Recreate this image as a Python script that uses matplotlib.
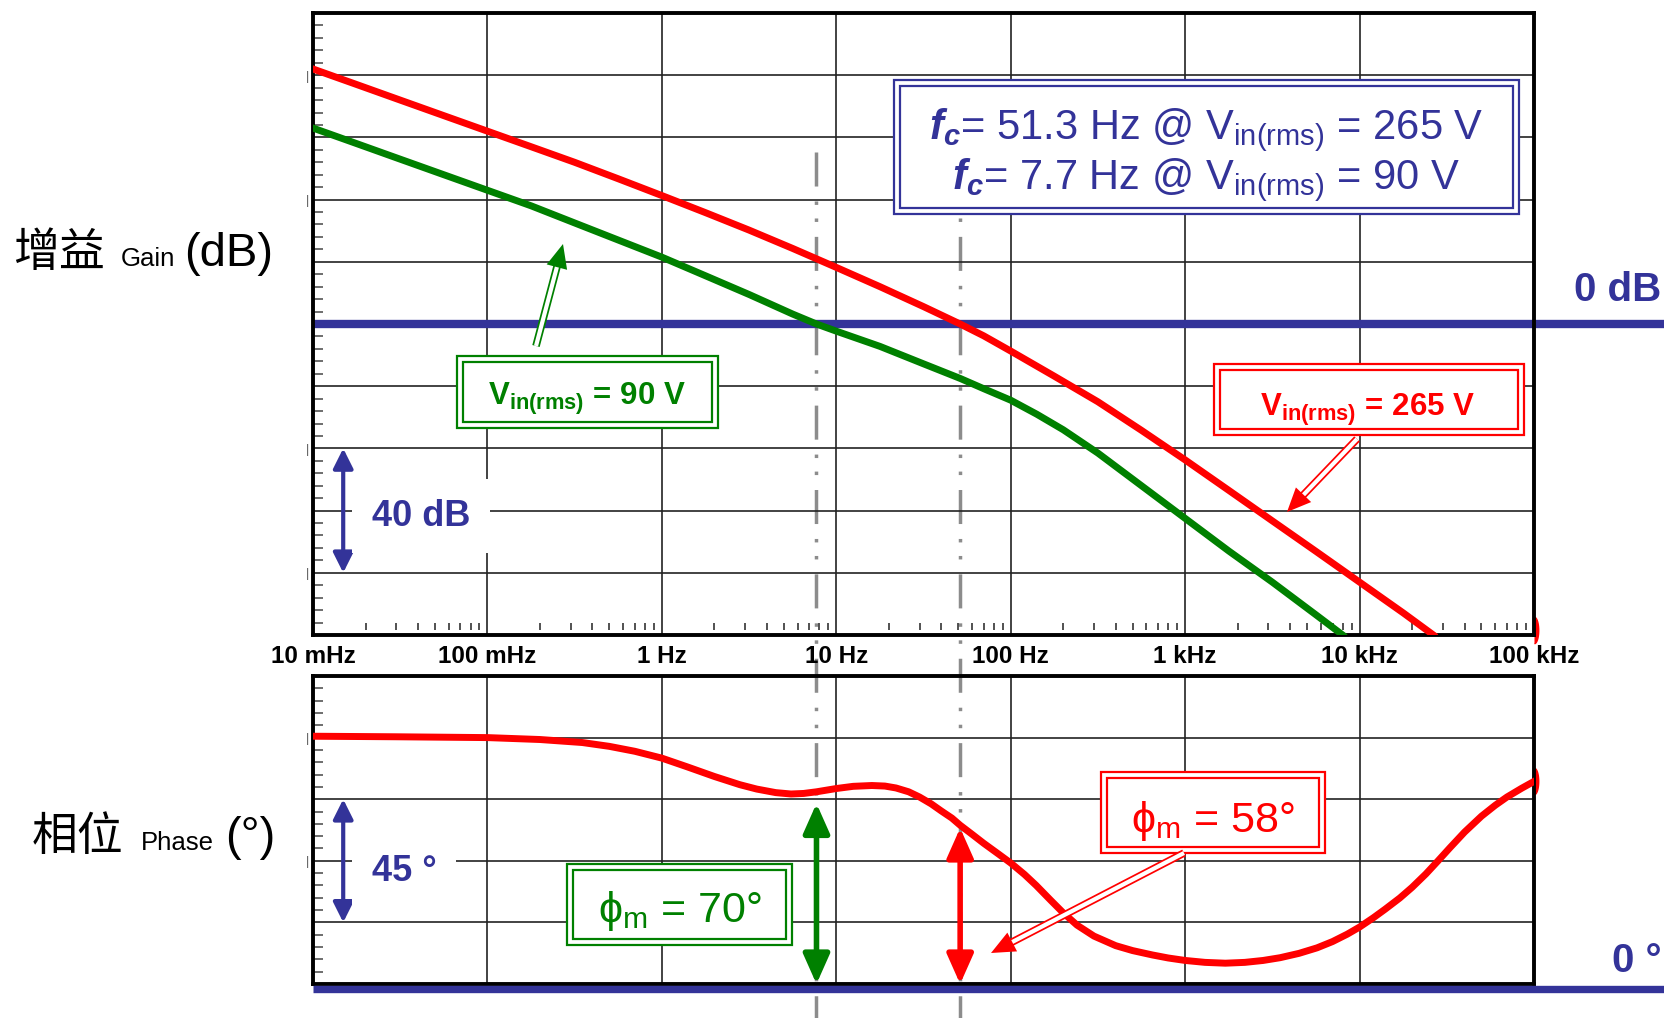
import numpy as np
import matplotlib
matplotlib.use('Agg')
import matplotlib.pyplot as plt
import matplotlib.transforms as mtransforms
from matplotlib.lines import Line2D
from matplotlib.patches import Rectangle, FancyArrowPatch
from matplotlib.path import Path
from matplotlib.ticker import FixedLocator, FixedFormatter, MultipleLocator, NullLocator

plt.rcParams['font.family'] = ['Liberation Sans', 'DejaVu Sans']
plt.rcParams['mathtext.fontset'] = 'custom'
plt.rcParams['mathtext.rm'] = 'Liberation Sans'
plt.rcParams['mathtext.it'] = 'Liberation Sans:italic'
plt.rcParams['mathtext.bf'] = 'Liberation Sans:bold'
plt.rcParams['mathtext.bfit'] = 'Liberation Sans:bold:italic'
plt.rcParams['mathtext.fallback'] = 'stixsans'

# open-loop gain, Vin(rms) = 265 V
gain_hi_freq = [0.01, 0.0178, 0.0316, 0.0562, 0.1, 0.178, 0.316, 0.562, 1, 1.78, 3.16, 5.62, 10, 17.8,
                31.6, 51.3, 70, 100, 178, 316, 562, 1000, 1780, 3160, 5620, 10000, 17800, 26500]
gain_hi_db = [82, 77, 72, 67, 62, 57, 52, 46.7, 41.3, 35.8, 30.2, 24.3, 18.2, 12,
              5.6, 0, -3.8, -8.7, -16.8, -25, -34.2, -43.7, -53.5, -63.3, -73.1, -83, -92.9, -100]

# open-loop gain, Vin(rms) = 90 V
gain_lo_freq = [0.01, 0.0178, 0.0316, 0.0562, 0.1, 0.178, 0.316, 0.562, 1, 1.78, 3.16, 5.62, 7.7, 10,
                17.8, 31.6, 51.3, 70, 100, 141, 200, 316, 562, 1000, 1780, 3160, 5620, 8000]
gain_lo_db = [63, 58, 53, 48, 43, 38, 32.5, 27, 21.5, 15.5, 9.5, 3.2, 0, -2.3,
              -7.2, -12.8, -17.5, -20.8, -24.5, -29, -34, -41.5, -52, -62.5, -73, -83, -93.5, -100]

# phase margin curve, Vin(rms) = 265 V
phase_freq = [0.01, 0.03, 0.1, 0.2, 0.35, 0.5, 0.7, 1, 1.4, 2, 2.8, 3.5, 4.5, 5.5, 6.5, 7.7, 10, 12.5,
              16, 19, 22, 26, 30, 35, 40, 46, 51.3, 60, 70, 85, 100, 120, 140, 170, 200, 240, 300,
              400, 500, 650, 800, 1000, 1300, 1700, 2200, 2800, 3500, 4500, 5700, 7000, 8500, 10000,
              12000, 14000, 17000, 20000, 24000, 28000, 33000, 40000, 50000, 60000, 70000, 85000, 100000]
phase_deg = [90.5, 90.3, 90, 89.3, 88.2, 86.8, 85, 82.5, 79.3, 75.8, 72.8, 71.2, 69.9, 69.4, 69.6, 70.2, 71.4, 72.2,
             72.5, 72.3, 71.6, 70.2, 68.3, 65.8, 63.2, 60.6, 58, 54.7, 51.4, 47.5, 44.2, 40, 36, 30.5, 26, 21.5, 17.5,
             14, 12.2, 10.6, 9.5, 8.6, 7.9, 7.6, 7.9, 8.6, 9.6, 11.2, 13.2, 15.5, 18.2, 20.8,
             24.2, 27.3, 31.4, 35.3, 40.2, 44.8, 49.8, 55.5, 61.3, 65.3, 68.3, 71.5, 74]

fc_hi, fc_lo = 51.3, 7.7
pm_hi, pm_lo = 58, 70

decades = [1e-2, 1e-1, 1, 1e1, 1e2, 1e3, 1e4, 1e5]
decade_labels = ['10 mHz', '100 mHz', '1 Hz', '10 Hz', '100 Hz', '1 kHz', '10 kHz', '100 kHz']

gain_ticks = list(range(-100, 101, 20))
gain_tick_labels = ['', '|', '', '|', '', '', '', '|', '', '|', '']
phase_ticks = [0, 22.5, 45, 67.5, 90, 112.5]
phase_tick_labels = ['', '', '|', '', '|', '']

RED = '#ff0000'
GREEN = '#008000'
BLUE = '#333399'
GREY = '#8c8c8c'

W, H = 1665, 1018
fig = plt.figure(figsize=(W / 100, H / 100), dpi=100)
fig.patch.set_facecolor('white')
# pixel coordinates from the top-left corner of the figure
px = mtransforms.Affine2D().scale(1 / W, -1 / H).translate(0, 1) + fig.transFigure


def add_axes_px(x0, y0, x1, y1):
    return fig.add_axes([x0 / W, 1 - y1 / H, (x1 - x0) / W, (y1 - y0) / H])


ax_g = add_axes_px(313, 13, 1534, 635)
ax_p = add_axes_px(313, 676, 1534, 984)

for ax in (ax_g, ax_p):
    ax.set_facecolor('none')
    ax.set_xscale('log')
    ax.set_xlim(1e-2, 1e5)
    ax.xaxis.set_major_locator(FixedLocator(decades))
    ax.xaxis.set_minor_locator(NullLocator())
    ax.set_axisbelow(True)
    ax.grid(True, which='major', color='#222222', lw=1.2)
    ax.tick_params(which='major', length=0)
    ax.tick_params(axis='y', which='minor', direction='in', length=7, width=1.2, color='#555555')
    ax.tick_params(axis='y', which='major', pad=3, labelsize=9, labelcolor='#555555')
    for s in ax.spines.values():
        s.set_linewidth(2.8)

ax_g.set_ylim(-100, 100)
ax_g.yaxis.set_major_locator(FixedLocator(gain_ticks))
ax_g.yaxis.set_major_formatter(FixedFormatter(gain_tick_labels))
ax_g.yaxis.set_minor_locator(MultipleLocator(4))
ax_g.xaxis.set_major_formatter(FixedFormatter(decade_labels))
ax_g.tick_params(axis='x', pad=7, labelsize=17.5)
for lab in ax_g.get_xticklabels():
    lab.set_fontweight('bold')

ax_p.set_ylim(0, 112.5)
ax_p.yaxis.set_major_locator(FixedLocator(phase_ticks))
ax_p.yaxis.set_major_formatter(FixedFormatter(phase_tick_labels))
ax_p.yaxis.set_minor_locator(MultipleLocator(4.5))
ax_p.tick_params(axis='x', labelbottom=False)

# short floating minor marks above the frequency axis
minor_f = [m * d for d in decades[:-1] for m in range(2, 10)]
ax_g.vlines(minor_f, 0.008, 0.02, transform=mtransforms.blended_transform_factory(ax_g.transData, ax_g.transAxes),
            color='#222222', lw=1.1)

# curves
ax_g.plot(gain_hi_freq, gain_hi_db, color=RED, lw=5, zorder=3)
ax_g.plot(gain_lo_freq, gain_lo_db, color=GREEN, lw=5, zorder=3)
ax_p.plot(phase_freq, phase_deg, color=RED, lw=5, zorder=3)

# clipped end blobs on the right-hand frame
half_ell = Path(np.column_stack([0.32 * np.cos(np.linspace(-np.pi / 2, np.pi / 2, 30)),
                                 np.sin(np.linspace(-np.pi / 2, np.pi / 2, 30))]))
ax_g.plot([1e5], [-98.5], marker=half_ell, ms=19, color=RED, clip_on=False, zorder=2)
ax_p.plot([1e5], [phase_deg[-1]], marker=half_ell, ms=19, color=RED, clip_on=False, zorder=2)

# 0 dB and 0 deg reference lines running out to the right edge
ax_g.plot([313 / W, 1], [0, 0], transform=mtransforms.blended_transform_factory(fig.transFigure, ax_g.transData),
          color=BLUE, lw=6, clip_on=False, zorder=2.2, solid_capstyle='butt')
ax_p.plot([313 / W, 1], [-0.016, -0.016], transform=mtransforms.blended_transform_factory(fig.transFigure, ax_p.transAxes),
          color=BLUE, lw=5.3, clip_on=False, zorder=3, solid_capstyle='butt')

# crossover frequency markers
for f in (fc_lo, fc_hi):
    fig.add_artist(Line2D([f, f], [152, H], transform=mtransforms.blended_transform_factory(ax_g.transData, px),
                          color=GREY, lw=2.5, ls=(0, (9.8, 4.3, 1, 3.9, 1, 4.3)), zorder=-1))


def double_box(x0, y0, x1, y1, color, gap=6):
    fig.add_artist(Rectangle((x0, y0), x1 - x0, y1 - y0, transform=px, facecolor='white',
                             edgecolor=color, lw=1.6, zorder=4))
    fig.add_artist(Rectangle((x0 + gap, y0 + gap), x1 - x0 - 2 * gap, y1 - y0 - 2 * gap, transform=px,
                             facecolor='none', edgecolor=color, lw=1.6, zorder=4))


def hollow_arrow(tail, tip, color, head=24, width=0.38):
    (x0, y0), (x1, y1) = tail, tip
    d = np.hypot(x1 - x0, y1 - y0)
    ux, uy = (x1 - x0) / d, (y1 - y0) / d
    bx, by = x1 - ux * head * 0.85, y1 - uy * head * 0.85
    fig.add_artist(Line2D([x0, bx], [y0, by], transform=px, color=color, lw=5.5, solid_capstyle='butt', zorder=5))
    fig.add_artist(Line2D([x0, bx], [y0, by], transform=px, color='white', lw=3.0, solid_capstyle='butt', zorder=5))
    fig.add_artist(FancyArrowPatch((x1 - ux * head * 1.1, y1 - uy * head * 1.1), (x1, y1), transform=px,
                                   arrowstyle=f'-|>,head_length={head * 0.72 / 20:.2f},head_width={width}',
                                   mutation_scale=20, color=color, lw=0, shrinkA=0, shrinkB=0, zorder=5))


# crossover frequency box
double_box(894, 80, 1519, 214, BLUE)
fig.text(1206, 139, r'$\mathbfit{f}_{\mathbfit{c}}$= 51.3 Hz @ V$_{\mathrm{in(rms)}}$ = 265 V', transform=px,
         ha='center', va='baseline', fontsize=30, color=BLUE, zorder=6)
fig.text(1206, 189, r'$\mathbfit{f}_{\mathbfit{c}}$= 7.7 Hz @ V$_{\mathrm{in(rms)}}$ = 90 V', transform=px,
         ha='center', va='baseline', fontsize=30, color=BLUE, zorder=6)

# input voltage tags
double_box(457, 356, 718, 428, GREEN)
fig.text(587, 405, r'V$_{\mathbf{in(rms)}}$ = 90 V', transform=px, ha='center', va='baseline',
         fontsize=22.5, fontweight='bold', color=GREEN, zorder=6)
hollow_arrow((536, 346), (563, 244), GREEN)

double_box(1214, 364, 1524, 435, RED)
fig.text(1368, 416, r'V$_{\mathbf{in(rms)}}$ = 265 V', transform=px, ha='center', va='baseline',
         fontsize=22.5, fontweight='bold', color=RED, zorder=6)
hollow_arrow((1357, 439), (1287, 512), RED)

# phase margin tags
double_box(567, 864, 792, 945, GREEN)
fig.text(680, 922, r'$\mathrm{\phi}_{\mathrm{m}}$ = 70°', transform=px, ha='center', va='baseline',
         fontsize=31, color=GREEN, zorder=6)
double_box(1101, 772, 1325, 853, RED)
fig.text(1213, 832, r'$\mathrm{\phi}_{\mathrm{m}}$ = 58°', transform=px, ha='center', va='baseline',
         fontsize=31, color=RED, zorder=6)
hollow_arrow((1184, 853), (991, 953), RED)

# phase margin arrows
ax_p.annotate('', xy=(fc_lo, pm_lo), xytext=(fc_lo, 0),
              arrowprops=dict(arrowstyle='<|-|>,head_length=0.9,head_width=0.4', lw=4, color=GREEN,
                              mutation_scale=20, shrinkA=0, shrinkB=8), zorder=5)
ax_p.annotate('', xy=(fc_hi, pm_hi), xytext=(fc_hi, 0),
              arrowprops=dict(arrowstyle='<|-|>,head_length=0.9,head_width=0.4', lw=4, color=RED,
                              mutation_scale=20, shrinkA=0, shrinkB=2), zorder=5)

# scale bars
f_bar = 0.0149
ax_g.annotate('', xy=(f_bar, -40), xytext=(f_bar, -80),
              arrowprops=dict(arrowstyle='<|-|>,head_length=0.6,head_width=0.3', lw=3, color=BLUE,
                              mutation_scale=20, shrinkA=0, shrinkB=0), zorder=5)
ax_p.annotate('', xy=(f_bar, 67.5), xytext=(f_bar, 22.5),
              arrowprops=dict(arrowstyle='<|-|>,head_length=0.6,head_width=0.3', lw=3, color=BLUE,
                              mutation_scale=20, shrinkA=0, shrinkB=0), zorder=5)
fig.text(372, 526, '40 dB', transform=px, ha='left', va='baseline', fontsize=26, fontweight='bold',
         color=BLUE, zorder=6, bbox=dict(facecolor='white', edgecolor='none', pad=14))
fig.text(372, 881, '45 °', transform=px, ha='left', va='baseline', fontsize=26, fontweight='bold',
         color=BLUE, zorder=6, bbox=dict(facecolor='white', edgecolor='none', pad=14))

# right-hand reference labels
fig.text(1574, 301, '0 dB', transform=px, ha='left', va='baseline', fontsize=29, fontweight='bold', color=BLUE)
fig.text(1612, 972, '0 °', transform=px, ha='left', va='baseline', fontsize=29, fontweight='bold', color=BLUE)

# axis titles
cjk = ['Noto Sans CJK SC', 'DejaVu Sans']
fig.text(13, 266, '增益', transform=px, va='baseline', fontsize=33, family=cjk)
fig.text(121, 266, 'Gain', transform=px, va='baseline', fontsize=18.5)
fig.text(184, 266, '(dB)', transform=px, va='baseline', fontsize=34)
fig.text(32, 850, '相位', transform=px, va='baseline', fontsize=33, family=cjk)
fig.text(141, 850, 'Phase', transform=px, va='baseline', fontsize=18.5)
fig.text(225, 850, '(°)', transform=px, va='baseline', fontsize=34)

fig.savefig('out.png', dpi=100, facecolor='white')
